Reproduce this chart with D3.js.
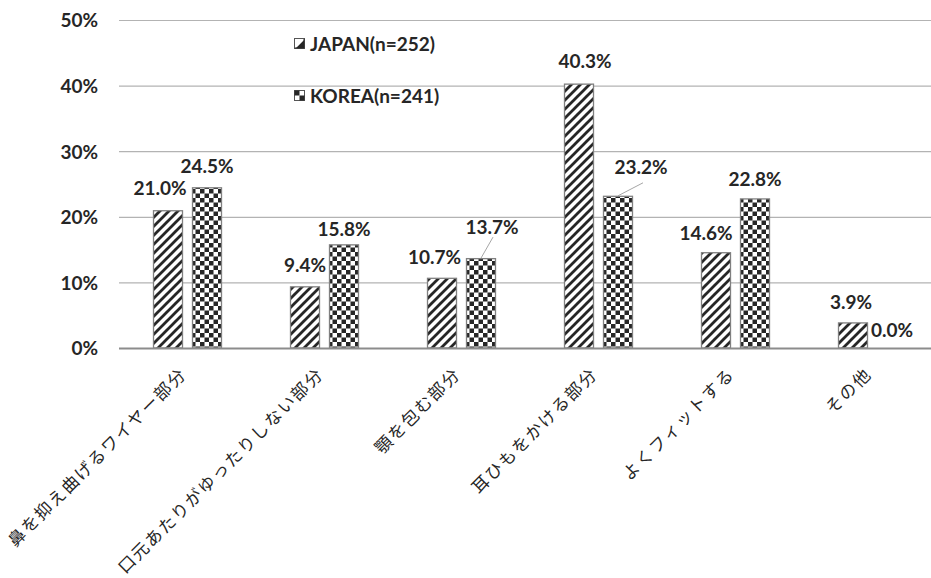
<!DOCTYPE html>
<html>
<head>
<meta charset="utf-8">
<script src="https://cdn.jsdelivr.net/npm/d3@7"></script>
<style>
  html, body { margin: 0; padding: 0; background: #fff; }
  svg { display: block; }
</style>
</head>
<body>
<svg id="chart" width="931" height="578"></svg>
<script>
// Survey categories (mask parts) and percentages per country
const categories = [
  "鼻を抑え曲げるワイヤー部分",
  "口元あたりがゆったりしない部分",
  "顎を包む部分",
  "耳ひもをかける部分",
  "よくフィットする",
  "その他"
];
const seriesNames = ["JAPAN(n=252)", "KOREA(n=241)"];
const japanValues = [21.0, 9.4, 10.7, 40.3, 14.6, 3.9];
const koreaValues = [24.5, 15.8, 13.7, 23.2, 22.8, 0.0];
const yTickValues = [0, 10, 20, 30, 40, 50];

// Label nudges (dx, distance above bar top) and optional leader lines
const japanLabelNudge = [[-8, 22], [0, 21], [-7.5, 21], [6, 22], [-10, 19], [-2, 20]];
const koreaLabelNudge = [[0, 21], [0, 15], [11, 31], [23, 29], [0, 19], [0, 18]];
const koreaLeader = [null, null, [1, 10], [2, 16], null, null];

const svg = d3.select("#chart");
const margin = { left: 119, top: 20, bottom: 348, right: 941 };
const labelFont = "Lato, 'Open Sans', sans-serif";
const labelSize = 19;
const ink = "#262626";

const x = d3.scaleBand().domain(categories).range([margin.left, margin.right]).padding(0);
const groupKeys = ["JAPAN", "KOREA"];
const bw = x.bandwidth();
const xs = d3.scaleBand().domain(groupKeys)
  .range([bw * 34 / 137, bw * 103 / 137])
  .paddingInner(9 / 39).paddingOuter(0);
const y = d3.scaleLinear().domain([0, 50]).range([margin.bottom, margin.top]);

// Fill patterns
const defs = svg.append("defs");
const stripe = defs.append("pattern")
  .attr("id", "stripe").attr("patternUnits", "userSpaceOnUse")
  .attr("width", 9).attr("height", 9);
stripe.append("rect").attr("width", 9).attr("height", 9).attr("fill", "#fff");
stripe.append("path")
  .attr("d", "M-2,11 L11,-2 M-11,11 L2,-2 M7,20 L20,7 M-2,2 L2,-2 M7,11 L11,7")
  .attr("stroke", ink).attr("stroke-width", 2.8).attr("fill", "none");

const checker = defs.append("pattern")
  .attr("id", "checker").attr("patternUnits", "userSpaceOnUse")
  .attr("width", 9).attr("height", 9);
checker.append("rect").attr("width", 9).attr("height", 9).attr("fill", "#fff");
checker.append("rect").attr("x", 0).attr("y", 0).attr("width", 4.5).attr("height", 4.5).attr("fill", ink);
checker.append("rect").attr("x", 4.5).attr("y", 4.5).attr("width", 4.5).attr("height", 4.5).attr("fill", ink);

// Gridlines
svg.append("g").selectAll("line")
  .data(yTickValues.filter(d => d > 0))
  .join("line")
  .attr("x1", margin.left).attr("x2", margin.right)
  .attr("y1", d => y(d) + 0.5).attr("y2", d => y(d) + 0.5)
  .attr("stroke", "#b3b3b3").attr("stroke-width", 1.2);

// Y axis labels
const yAxis = d3.axisLeft(y).tickValues(yTickValues).tickSize(0).tickFormat(d => d + "%");
const gy = svg.append("g").attr("transform", `translate(${margin.left - 21},0)`).call(yAxis);
gy.select(".domain").remove();
gy.selectAll("text")
  .attr("font-family", labelFont)
  .attr("font-weight", 700).attr("font-size", labelSize).attr("fill", ink)
  .attr("dy", "0.36em").attr("x", 0);

// Bars
const rows = categories.map((c, i) => ({ c, i, JAPAN: japanValues[i], KOREA: koreaValues[i] }));
const groups = svg.append("g").selectAll("g")
  .data(rows).join("g")
  .attr("transform", d => `translate(${x(d.c)},0)`);

groups.append("rect")
  .attr("x", xs("JAPAN") + 0.5).attr("width", xs.bandwidth() - 1)
  .attr("y", d => y(d.JAPAN) + 0.5)
  .attr("height", d => Math.max(0, y(0) - y(d.JAPAN) - 0.5))
  .attr("fill", "url(#stripe)").attr("stroke", "#808080").attr("stroke-width", 1.3);

groups.filter(d => d.KOREA > 0).append("rect")
  .attr("x", xs("KOREA") + 0.5).attr("width", xs.bandwidth() - 1)
  .attr("y", d => y(d.KOREA) + 0.5)
  .attr("height", d => Math.max(0, y(0) - y(d.KOREA) - 0.5))
  .attr("fill", "url(#checker)").attr("stroke", "#808080").attr("stroke-width", 1.3);

// Baseline
svg.append("line")
  .attr("x1", margin.left).attr("x2", margin.right)
  .attr("y1", y(0) + 0.5).attr("y2", y(0) + 0.5)
  .attr("stroke", "#8c8c8c").attr("stroke-width", 2);

// Value labels
const fmt = v => v.toFixed(1) + "%";
groups.each(function (d) {
  const g = d3.select(this);
  const jx = xs("JAPAN") + xs.bandwidth() / 2;
  const kx = xs("KOREA") + xs.bandwidth() / 2;
  const jn = japanLabelNudge[d.i], kn = koreaLabelNudge[d.i];
  const kLabel = [kx + kn[0], y(d.KOREA) - kn[1]];
  const lead = koreaLeader[d.i];
  if (lead) {
    g.append("line")
      .attr("x1", kx).attr("y1", y(d.KOREA))
      .attr("x2", kLabel[0] + lead[0]).attr("y2", kLabel[1] + lead[1])
      .attr("stroke", "#a6a6a6").attr("stroke-width", 1);
  }
  g.append("text")
    .attr("x", jx + jn[0]).attr("y", y(d.JAPAN) - jn[1])
    .attr("dy", "0.36em").attr("text-anchor", "middle")
    .attr("font-family", labelFont).attr("font-weight", 700).attr("font-size", labelSize)
    .attr("fill", ink).text(fmt(d.JAPAN));
  g.append("text")
    .attr("x", kLabel[0]).attr("y", kLabel[1])
    .attr("dy", "0.36em").attr("text-anchor", "middle")
    .attr("font-family", labelFont).attr("font-weight", 700).attr("font-size", labelSize)
    .attr("fill", ink).text(fmt(d.KOREA));
});

// Category labels (rotated)
const xAxis = d3.axisBottom(x).tickSize(0);
const gx = svg.append("g").attr("transform", `translate(0,${y(0)})`).call(xAxis);
gx.select(".domain").remove();
gx.selectAll("text")
  .attr("font-family", "'Noto Sans CJK JP', sans-serif")
  .attr("font-size", 17).attr("fill", ink)
  .attr("letter-spacing", "1.8px")
  .attr("text-anchor", "end")
  .attr("transform", "translate(-4,23) rotate(-45)")
  .attr("dy", "0.35em").attr("y", 0);

// Legend
const legend = svg.append("g").attr("transform", "translate(294,0)");
const legendY = [44, 96];
legend.selectAll("g").data(seriesNames).join("g")
  .attr("transform", (d, i) => `translate(0,${legendY[i]})`)
  .each(function (d, i) {
    const g = d3.select(this);
    g.append("rect").attr("x", 0.5).attr("y", -5.5).attr("width", 10).attr("height", 10)
      .attr("fill", "#fff").attr("stroke", "#555").attr("stroke-width", 1);
    if (i === 0) {
      g.append("path").attr("d", "M0.5,4.5 L10.5,-5.5 L10.5,4.5 Z").attr("fill", ink);
      g.append("path").attr("d", "M2,3 L9,-4").attr("stroke", "#fff").attr("stroke-width", 1.6);
    } else {
      g.append("rect").attr("x", 0.5).attr("y", -5.5).attr("width", 5).attr("height", 5).attr("fill", ink);
      g.append("rect").attr("x", 5.5).attr("y", -0.5).attr("width", 5).attr("height", 5).attr("fill", ink);
    }
    g.append("text").attr("x", 16).attr("y", 0).attr("dy", "0.36em")
      .attr("font-family", labelFont).attr("font-weight", 700).attr("font-size", labelSize)
      .attr("fill", ink).text(d);
  });
</script>
</body>
</html>
